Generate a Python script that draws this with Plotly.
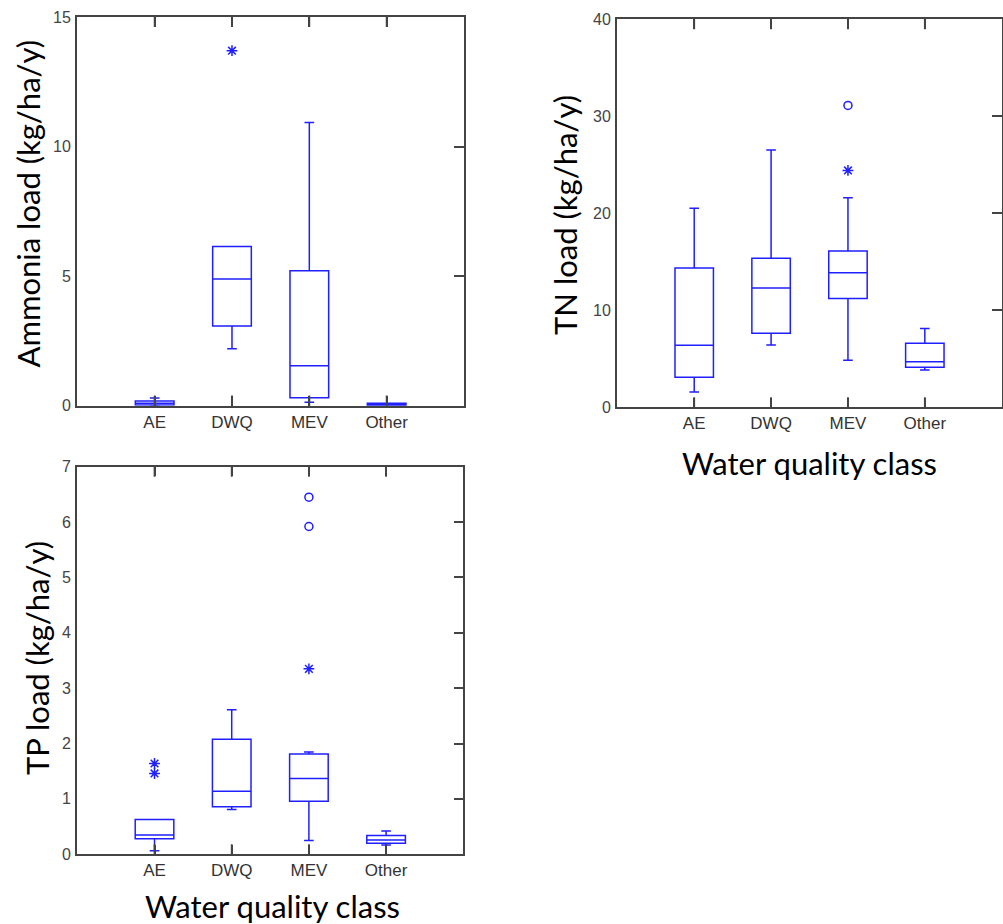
import plotly.graph_objects as go

categories = ["AE", "DWQ", "MEV", "Other"]

# Ammonia load (kg/ha/y)
amm_low = [0.0, 2.2, 0.13, 0.0]
amm_q1 = [0.03, 3.08, 0.31, 0.02]
amm_med = [0.1, 4.89, 1.54, 0.06]
amm_q3 = [0.18, 6.14, 5.21, 0.1]
amm_high = [0.3, 6.14, 10.93, 0.1]
amm_star_x = ["DWQ"]
amm_star_y = [13.7]
amm_circ_x = []
amm_circ_y = []

# TN load (kg/ha/y)
tn_low = [1.58, 6.42, 4.84, 3.84]
tn_q1 = [3.09, 7.62, 11.2, 4.12]
tn_med = [6.4, 12.3, 13.86, 4.7]
tn_q3 = [14.35, 15.35, 16.1, 6.6]
tn_high = [20.5, 26.5, 21.6, 8.13]
tn_star_x = ["MEV"]
tn_star_y = [24.4]
tn_circ_x = ["MEV"]
tn_circ_y = [31.1]

# TP load (kg/ha/y)
tp_low = [0.066, 0.81, 0.25, 0.17]
tp_q1 = [0.28, 0.86, 0.96, 0.2]
tp_med = [0.35, 1.14, 1.37, 0.26]
tp_q3 = [0.63, 2.08, 1.81, 0.34]
tp_high = [0.63, 2.61, 1.85, 0.42]
tp_star_x = ["AE", "AE", "MEV"]
tp_star_y = [1.64, 1.46, 3.35]
tp_circ_x = ["MEV", "MEV"]
tp_circ_y = [6.45, 5.92]

amm_ticks = [0, 5, 10, 15]
tn_ticks = [0, 10, 20, 30, 40]
tp_ticks = [0, 1, 2, 3, 4, 5, 6, 7]

BLUE = "#1f1fff"
AXC = "#444444"

d1x = [0.0771, 0.4626]; d1y = [0.5609, 0.9816]
d2x = [0.6155, 0.9987]; d2y = [0.5592, 0.9794]
d3x = [0.0771, 0.4619]; d3y = [0.0754, 0.4949]

fig = go.Figure()

panels = [
    ("x", "y", d1x, amm_ticks, amm_low, amm_q1, amm_med, amm_q3, amm_high,
     amm_star_x, amm_star_y, amm_circ_x, amm_circ_y),
    ("x2", "y2", d2x, tn_ticks, tn_low, tn_q1, tn_med, tn_q3, tn_high,
     tn_star_x, tn_star_y, tn_circ_x, tn_circ_y),
    ("x3", "y3", d3x, tp_ticks, tp_low, tp_q1, tp_med, tp_q3, tp_high,
     tp_star_x, tp_star_y, tp_circ_x, tp_circ_y),
]

tickfont_x = dict(family="Liberation Sans, Arial", size=17, color="#333333")
tickfont_y = dict(family="Liberation Sans, Arial", size=16, color="#444444")

TICK_FRAC = 0.026  # inside tick length as a fraction of the plot height

for xa, ya, dx, tv, lo, q1, med, q3, hi, sx, sy, cx, cy in panels:
    fig.add_trace(go.Box(
        x=categories, lowerfence=lo, q1=q1, median=med, q3=q3, upperfence=hi,
        xaxis=xa, yaxis=ya, width=0.5, whiskerwidth=0.25,
        fillcolor="rgba(0,0,0,0)", line=dict(color=BLUE, width=1.5),
        boxpoints=False, showlegend=False, hoverinfo="skip",
    ))
    if sx:
        fig.add_trace(go.Scatter(
            x=sx, y=sy, xaxis=xa, yaxis=ya, mode="markers",
            marker=dict(symbol="asterisk-open", size=9, color=BLUE,
                        line=dict(color=BLUE, width=1.5)),
            showlegend=False, hoverinfo="skip",
        ))
    if cx:
        fig.add_trace(go.Scatter(
            x=cx, y=cy, xaxis=xa, yaxis=ya, mode="markers",
            marker=dict(symbol="circle-open", size=8, color=BLUE,
                        line=dict(color=BLUE, width=1.5)),
            showlegend=False, hoverinfo="skip",
        ))
    # y tick labels on the left (the axis itself carries the right-side ticks)
    for v in tv:
        fig.add_annotation(
            text=str(v), x=dx[0], y=v, xref="paper", yref=ya,
            xanchor="right", yanchor="middle", xshift=-4,
            showarrow=False, font=tickfont_y,
        )
    # inside x ticks at bottom and top edges, one per category
    for c in categories:
        for y0, y1 in ((0, TICK_FRAC), (1, 1 - TICK_FRAC)):
            fig.add_shape(
                type="line", xref=xa, yref=f"{ya} domain",
                x0=c, x1=c, y0=y0, y1=y1, layer="above",
                line=dict(color=AXC, width=1.8),
            )

def xaxis_cfg(domain, anchor):
    return dict(
        domain=domain, anchor=anchor, type="category",
        categoryorder="array", categoryarray=categories,
        range=[-1, 4], showgrid=False, zeroline=False, automargin=False,
        showline=True, linecolor=AXC, linewidth=1.5, mirror="ticks",
        ticks="inside", ticklen=10, tickwidth=1.8, tickcolor=AXC,
        tickfont=tickfont_x,
    )

def yaxis_cfg(domain, anchor, rng, tv):
    return dict(
        domain=domain, anchor=anchor, range=rng, tickvals=tv, side="right",
        showgrid=False, zeroline=False, automargin=False,
        showline=True, linecolor=AXC, linewidth=1.5, mirror=True,
        ticks="inside", ticklen=10, tickwidth=1.8, tickcolor=AXC,
        showticklabels=False,
    )

fig.update_layout(
    width=1003, height=924,
    margin=dict(l=0, r=0, t=0, b=0, pad=0, autoexpand=False),
    paper_bgcolor="white", plot_bgcolor="white",
    xaxis=xaxis_cfg(d1x, "y"),
    yaxis=yaxis_cfg(d1y, "x", [0, 15], amm_ticks),
    xaxis2=xaxis_cfg(d2x, "y2"),
    yaxis2=yaxis_cfg(d2y, "x2", [0, 40], tn_ticks),
    xaxis3=xaxis_cfg(d3x, "y3"),
    yaxis3=yaxis_cfg(d3y, "x3", [0, 7], tp_ticks),
)

title_font = dict(family="Lato, Open Sans, sans-serif", size=31, color="black")

def add_title(text, x, y, angle):
    fig.add_annotation(
        text=text, x=x, y=y, xref="paper", yref="paper",
        xanchor="center", yanchor="middle", textangle=angle,
        showarrow=False, font=title_font,
    )

add_title("Ammonia load (kg/ha/y)", 27 / 1003, 1 - 203.5 / 924, -90)
add_title("TN load (kg/ha/y)", 565 / 1003, 1 - 215 / 924, -90)
add_title("TP load (kg/ha/y)", 37 / 1003, 1 - 658 / 924, -90)
add_title("Water quality class", 809 / 1003, 1 - 463 / 924, 0)
add_title("Water quality class", 272.5 / 1003, 1 - 906 / 924, 0)

fig.write_html("out.html")
